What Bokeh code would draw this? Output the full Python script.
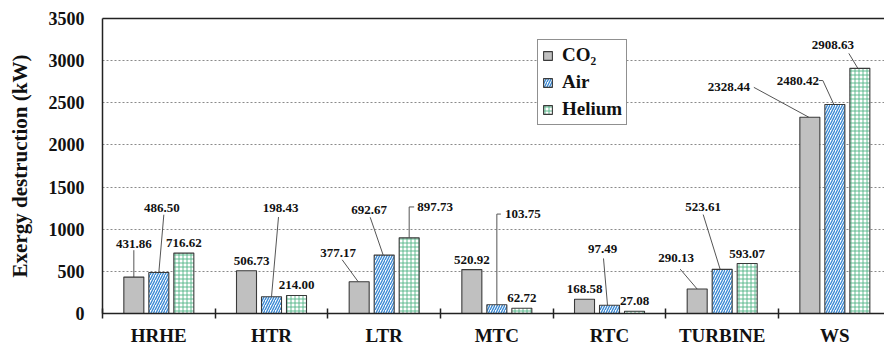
from bokeh.plotting import figure
from bokeh.models import Range1d, LinearAxis, FixedTicker, Legend, LegendItem, ColumnDataSource
from bokeh.core.properties import value
from bokeh.embed import file_html
from bokeh.resources import INLINE

# ---------------- data ----------------
components = ["HRHE", "HTR", "LTR", "MTC", "RTC", "TURBINE", "WS"]
co2 = [431.86, 506.73, 377.17, 520.92, 168.58, 290.13, 2328.44]
air = [486.50, 198.43, 692.67, 103.75, 97.49, 523.61, 2480.42]
helium = [716.62, 214.00, 897.73, 62.72, 27.08, 593.07, 2908.63]
series_names = ["CO\u2082", "Air", "Helium"]
y_ticks = [0, 500, 1000, 1500, 2000, 2500, 3000, 3500]

# ---------------- label layout (pixel offsets from bar top centre) ----------------
label_offsets = [
    [(0, 33), (5, 10), (-21, 29), (0, 10), (0, 10), (-21, 31), (-81, 30)],
    [(3, 65), (9, 89), (-15, 45), (26, 91), (-7, 56), (-19, 63), (-37, 24)],
    [(0, 10), (0, 10), (26, 31), (0, 10), (0, 10), (0, 10), (-27, 23)],
]
leaders = [
    [[(0, 27), (0, 0)], None, [(-17, 22), (-1, 0)], None, None, [(-17, 20), (0, 0)], [(-56, 30), (-1, 0)]],
    [[(5, 58), (0, 0)], [(7, 80), (0, 0)], [(-14, 38), (-1, 0)], [(0, 0), (0, 91), (4, 91)],
     [(-6, 47), (-2, 0)], [(-19, 55), (-2, 0)], [(-16, 24), (-12, 24), (-1, 0)]],
    [None, None, [(0, 0), (0, 31), (5, 31)], None, None, None, [(-11, 15), (-2, 0)]],
]

# ---------------- geometry / style ----------------
W, H = 884, 348
BORDER_L, BORDER_T, BORDER_B = 102, 18, 34
CAT_PX = 112.67
FRAME_W = W - BORDER_L
FRAME_H = H - BORDER_T - BORDER_B
X_END = 0.5 + FRAME_W / CAT_PX
PX_X = CAT_PX
PX_Y = FRAME_H / 3500.0
BAR_W = 20 / CAT_PX
BAR_STEP = 25 / CAT_PX
FONT = "Times New Roman, Liberation Serif, serif"

p = figure(width=W, height=H, output_backend="svg", toolbar_location=None,
           x_range=Range1d(0.5, X_END), y_range=Range1d(0, 3500),
           min_border_left=BORDER_L, min_border_right=0, min_border_top=BORDER_T,
           min_border_bottom=BORDER_B)
p.outline_line_color = None
p.background_fill_color = "white"
p.border_fill_color = "white"
p.xgrid.visible = False
p.ygrid.ticker = FixedTicker(ticks=[500, 1000, 1500, 2000, 2500, 3000])
p.ygrid.grid_line_color = "#8a8a8a"
p.ygrid.grid_line_dash = "2 2"
p.ygrid.grid_line_width = 1

xs_cat = list(range(1, len(components) + 1))

# x axis
xa = p.xaxis[0]
xa.ticker = FixedTicker(ticks=xs_cat, minor_ticks=[i + 0.5 for i in range(0, len(components) + 1)])
xa.major_label_overrides = {x: c for x, c in zip(xs_cat, components)}
xa.major_tick_in = 0
xa.major_tick_out = 0
xa.minor_tick_in = 5
xa.minor_tick_out = 5
xa.minor_tick_line_color = "#222222"
xa.minor_tick_line_width = 1.5
xa.axis_line_color = "#222222"
xa.axis_line_width = 1.5
xa.major_label_text_font = FONT
xa.major_label_text_font_style = "bold"
xa.major_label_text_font_size = "19px"
xa.major_label_text_color = "#111111"
xa.major_label_standoff = 6

# y axis
ya = p.yaxis[0]
ya.ticker = FixedTicker(ticks=y_ticks)
ya.major_tick_in = 0
ya.major_tick_out = 0
ya.minor_tick_line_color = None
ya.axis_line_color = "#222222"
ya.axis_line_width = 1.5
ya.major_label_text_font = FONT
ya.major_label_text_font_style = "bold"
ya.major_label_text_font_size = "18px"
ya.major_label_text_color = "#111111"
ya.major_label_standoff = 18
ya.axis_label = "Exergy destruction (kW)"
ya.axis_label_text_font = FONT
ya.axis_label_text_font_style = "bold"
ya.axis_label_text_font_size = "21px"
ya.axis_label_text_color = "#111111"
ya.axis_label_standoff = 14

# top border line
top = LinearAxis(ticker=FixedTicker(ticks=[]), major_tick_line_color=None,
                 minor_tick_line_color=None, axis_line_color="#222222", axis_line_width=1.5,
                 major_label_text_font_size="0px")
p.add_layout(top, "above")

series = [co2, air, helium]
styles = [
    dict(fill_color="#c0c0c0"),
    dict(fill_color="white", hatch_pattern="right_diagonal_line", hatch_color="#3b8ad4",
         hatch_scale=5, hatch_weight=1.4),
    dict(fill_color="white", hatch_pattern="cross", hatch_color="#4fb486",
         hatch_scale=4, hatch_weight=0.9),
]

# leader lines
lx, ly = [], []
for s, vals in enumerate(series):
    off = (s - 1) * BAR_STEP
    for i, v in enumerate(vals):
        pts = leaders[s][i]
        if pts:
            lx.append([xs_cat[i] + off + dx / PX_X for dx, dy in pts])
            ly.append([v + dy / PX_Y for dx, dy in pts])
p.multi_line(xs=lx, ys=ly, line_color="#555555", line_width=1)

renderers = []
for s, vals in enumerate(series):
    off = (s - 1) * BAR_STEP
    src = ColumnDataSource(dict(x=[x + off for x in xs_cat], top=vals))
    r = p.vbar(x="x", top="top", width=BAR_W, bottom=0, source=src,
               line_color="#3a3a3a", line_width=1.1, **styles[s])
    renderers.append(r)

# value labels
tx, ty, tt = [], [], []
for s, vals in enumerate(series):
    off = (s - 1) * BAR_STEP
    for i, v in enumerate(vals):
        dx, dy = label_offsets[s][i]
        tx.append(xs_cat[i] + off + dx / PX_X)
        ty.append(v + dy / PX_Y)
        tt.append(f"{v:.2f}")
p.text(x=tx, y=ty, text=tt, text_font=value(FONT), text_font_style="bold",
       text_font_size="13px", text_align="center", text_baseline="middle", text_color="#111111")

legend = Legend(items=[LegendItem(label=n, renderers=[r]) for n, r in zip(series_names, renderers)],
                location=(435, 188), orientation="vertical",
                border_line_color="#222222", border_line_width=1.5,
                background_fill_color="white", background_fill_alpha=1.0,
                padding=4, spacing=5, margin=0,
                glyph_width=11, glyph_height=11, label_standoff=9, label_height=20,
                label_text_font=FONT, label_text_font_style="bold",
                label_text_font_size="19px", label_text_color="#111111")
p.add_layout(legend)

open("out.html", "w").write(file_html(p, INLINE))
